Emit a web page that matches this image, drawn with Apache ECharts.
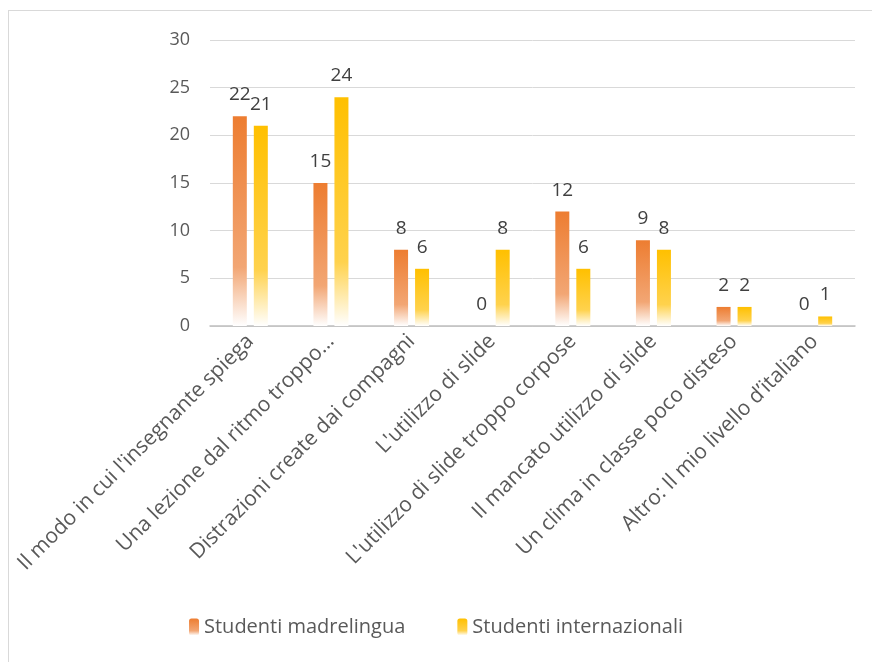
<!DOCTYPE html>
<html>
<head>
<meta charset="utf-8">
<script src="https://cdn.jsdelivr.net/npm/echarts@6/dist/echarts.min.js"></script>
<style>
  html, body { margin: 0; padding: 0; background: #fff; }
  #frame { position: absolute; left: 8px; top: 10px; width: 880px; height: 680px; border: 1px solid #d9d9d9; }
  #main { position: absolute; left: 0; top: 0; width: 872px; height: 662px; }
</style>
</head>
<body>
<div id="frame"></div>
<div id="main"></div>
<script>
var categories = [
    "Il modo in cui l'insegnante spiega",
    "Una lezione dal ritmo troppo\u2026",
    "Distrazioni create dai compagni",
    "L'utilizzo di slide",
    "L'utilizzo di slide troppo corpose",
    "Il mancato utilizzo di slide",
    "Un clima in classe poco disteso",
    "Altro: Il mio livello d\u2019italiano"
];
var madrelingua = [22, 15, 8, 0, 12, 9, 2, 0];
var internazionali = [21, 24, 6, 8, 6, 8, 2, 1];
var yTicks = { min: 0, max: 30, interval: 5 };

// riempimento sfumato come in Excel
function fade(c, mid) {
    return new echarts.graphic.LinearGradient(0, 0, 0, 1, [
        {offset: 0, color: c},
        {offset: 0.72, color: mid},
        {offset: 1, color: '#ffffff'}
    ]);
}

var chart = echarts.init(document.getElementById('main'));
var font = '"Open Sans", "Noto Sans", sans-serif';
var option = {
    animation: false,
    textStyle: { fontFamily: font },
    grid: { left: 210, right: 17, top: 40, bottom: 336, containLabel: false },
    legend: {
        bottom: 20,
        left: 'center',
        itemWidth: 10,
        itemHeight: 17,
        itemGap: 52,
        textStyle: { fontSize: 20, color: '#595959', fontFamily: font },
        data: ['Studenti madrelingua', 'Studenti internazionali']
    },
    xAxis: {
        type: 'category',
        data: categories,
        axisLine: { lineStyle: { color: '#bfbfbf', width: 1.5 } },
        axisTick: { show: false },
        axisLabel: {
            interval: 0,
            rotate: 45,
            margin: 12,
            fontSize: 21,
            color: '#595959',
            fontFamily: font
        }
    },
    yAxis: {
        type: 'value',
        min: yTicks.min,
        max: yTicks.max,
        interval: yTicks.interval,
        axisLine: { show: false },
        axisTick: { show: false },
        axisLabel: { fontSize: 18, color: '#595959', margin: 20, fontFamily: font },
        splitLine: { lineStyle: { color: '#d9d9d9', width: 1 } }
    },
    series: [
        {
            name: 'Studenti madrelingua',
            type: 'bar',
            data: madrelingua,
            barWidth: 14,
            barGap: '50%',
            itemStyle: { color: fade('#ED7D31', '#F2A674') },
            label: { show: true, position: 'top', distance: 12, fontSize: 19, color: '#404040', fontFamily: font }
        },
        {
            name: 'Studenti internazionali',
            type: 'bar',
            data: internazionali,
            barWidth: 14,
            itemStyle: { color: fade('#FFC000', '#FFD24D') },
            label: { show: true, position: 'top', distance: 12, fontSize: 19, color: '#404040', fontFamily: font }
        }
    ]
};
chart.setOption(option);
</script>
</body>
</html>
